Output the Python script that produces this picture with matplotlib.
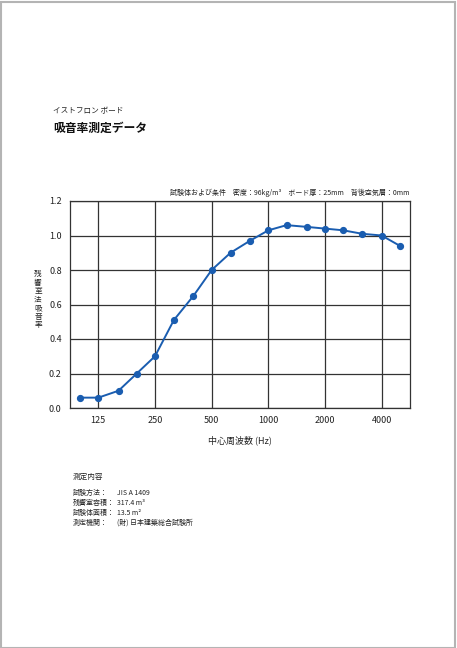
import numpy as np
import matplotlib.pyplot as plt
from matplotlib.patches import Rectangle

plt.rcParams['font.family'] = ['Noto Sans CJK JP', 'DejaVu Sans']

# 1/3 octave band centre frequencies and absorption coefficients
freqs = [100, 125, 160, 200, 250, 315, 400, 500, 630, 800,
         1000, 1250, 1600, 2000, 2500, 3150, 4000, 5000]
alpha = [0.06, 0.06, 0.10, 0.20, 0.30, 0.51, 0.65, 0.80, 0.90, 0.97,
         1.03, 1.06, 1.05, 1.04, 1.03, 1.01, 1.00, 0.94]
xticks = [125, 250, 500, 1000, 2000, 4000]
yticks = [0.0, 0.2, 0.4, 0.6, 0.8, 1.0, 1.2]

info_labels = ['試験方法：', '残響室容積：', '試験体面積：', '測定機関：']
info_values = ['JIS A 1409', '317.4 m³', '13.5 m²', '(財) 日本建築総合試験所']

W, H = 457, 648
fig = plt.figure(figsize=(W / 100, H / 100), dpi=100)

# page border
fig.patches.append(Rectangle((0.5 / W, 0.5 / H), 1 - 2.5 / W, 1 - 2.5 / H,
                             transform=fig.transFigure, fill=False,
                             edgecolor='#b4b4b4', linewidth=1.5))

ax = fig.add_axes([70 / W, 1 - 408 / H, 340 / W, 207 / H])
ax.plot(freqs, alpha, color='#1a5db0', linewidth=1.4,
        marker='o', markersize=4.2, zorder=3)
ax.set_xscale('log')
ax.set_xlim(125 / np.sqrt(2), 4000 * np.sqrt(2))
ax.set_ylim(0, 1.2)
ax.set_xticks(xticks)
ax.set_xticklabels([str(t) for t in xticks])
ax.minorticks_off()
ax.set_yticks(yticks)
ax.set_yticklabels(['%.1f' % t for t in yticks])
ax.tick_params(length=0, labelsize=6.5, colors='#222222', pad=6)
ax.grid(True, color='#333333', linewidth=0.9)
for s in ax.spines.values():
    s.set_color('#333333')
    s.set_linewidth(0.9)

ax.set_xlabel('中心周波数 (Hz)', fontsize=6.5, color='#222222', labelpad=7)

# vertical stacked y label
ylab = '残響室法吸音率'
for i, ch in enumerate(ylab):
    fig.text(38 / W, 1 - (274 + i * 8.5) / H, ch, fontsize=5.5,
             ha='center', va='center', color='#222222')

fig.text(53 / W, 1 - 111 / H, 'イストフロン ボード', fontsize=5.5,
         ha='left', va='center', color='#222222')
fig.text(53 / W, 1 - 128 / H, '吸音率測定データ', fontsize=8.5,
         fontweight='bold', ha='left', va='center', color='#111111')
fig.text(410 / W, 1 - 193 / H,
         '試験体および条件　密度：96kg/m³　ボード厚：25mm　背後空気層：0mm',
         fontsize=5.0, ha='right', va='center', color='#222222')

fig.text(73 / W, 1 - 477 / H, '測定内容', fontsize=5.5,
         ha='left', va='center', color='#222222')
for i, (lab, val) in enumerate(zip(info_labels, info_values)):
    y = 1 - (493 + i * 10) / H
    fig.text(73 / W, y, lab, fontsize=5.0, ha='left', va='center', color='#222222')
    fig.text(117 / W, y, val, fontsize=5.0, ha='left', va='center', color='#222222')

fig.savefig('out.png', dpi=100, facecolor='white')
